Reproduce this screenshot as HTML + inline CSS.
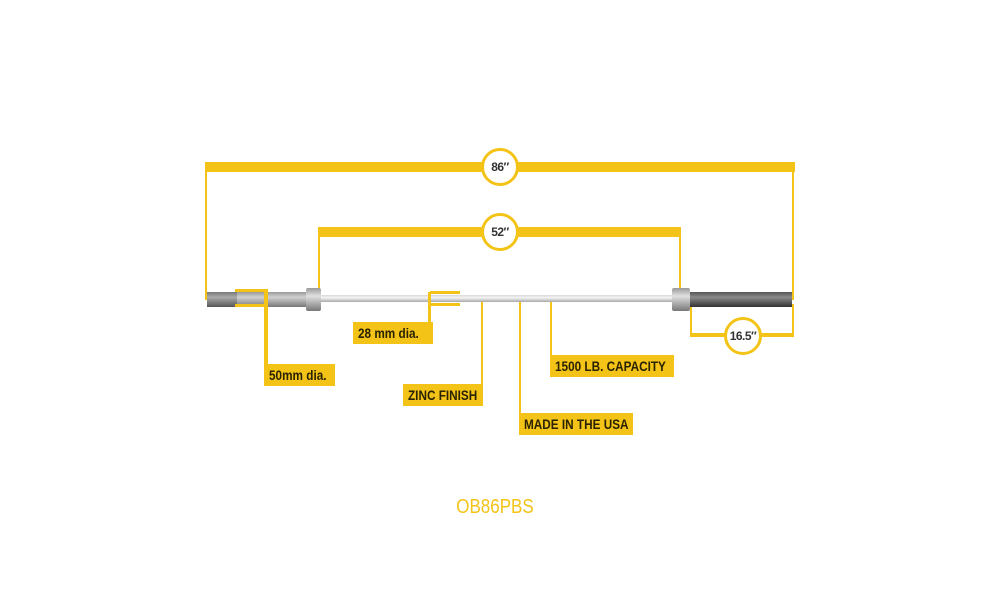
<!DOCTYPE html>
<html><head><meta charset="utf-8"><style>
body{margin:0;width:1000px;height:600px;background:#fff;position:relative;overflow:hidden;font-family:"Liberation Sans",sans-serif}
.y{position:absolute;background:#f3c317}
.c{position:absolute;width:32px;height:32px;border:3px solid #f3c317;border-radius:50%;background:#fff;font:bold 12px "Liberation Sans",sans-serif;color:#333;text-align:center;line-height:32px;letter-spacing:-0.5px}
.l{position:absolute;background:#f3c317;color:#2a2200;font-weight:bold;font-size:14px;line-height:22px;padding-left:5px;box-sizing:border-box;white-space:nowrap;overflow:hidden}
.l span{display:inline-block;transform:scaleX(.84);transform-origin:left center}
</style></head><body>
<div class="y" style="left:205px;top:162px;width:590px;height:10px"></div>
<div class="y" style="left:205px;top:162px;width:2px;height:138px"></div>
<div class="y" style="left:792px;top:162px;width:2px;height:138px"></div>
<div class="c" style="left:481px;top:148px">86″</div>
<div class="y" style="left:318px;top:227px;width:363px;height:10px"></div>
<div class="y" style="left:318px;top:227px;width:2px;height:66px"></div>
<div class="y" style="left:679px;top:227px;width:2px;height:66px"></div>
<div class="c" style="left:481px;top:213px">52″</div>
<div style="position:absolute;left:320px;top:295px;width:352px;height:7px;background:linear-gradient(#d8d8d8,#f4f4f4 40%,#a8a8a8)"></div>
<div style="position:absolute;left:207px;top:292px;width:100px;height:15px;background:linear-gradient(#9a9a9a,#d0d0d0 35%,#777)"></div>
<div style="position:absolute;left:207px;top:292px;width:30px;height:15px;background:linear-gradient(#777,#aaa 35%,#555)"></div>
<div style="position:absolute;left:306px;top:288px;width:15px;height:23px;background:linear-gradient(#999,#e0e0e0 35%,#777);border-radius:2px"></div>
<div style="position:absolute;left:672px;top:288px;width:18px;height:23px;background:linear-gradient(#999,#e0e0e0 35%,#777);border-radius:2px"></div>
<div style="position:absolute;left:690px;top:292px;width:102px;height:15px;background:linear-gradient(#555,#8a8a8a 35%,#333)"></div>
<div class="y" style="left:235px;top:289px;width:30px;height:3px"></div>
<div class="y" style="left:235px;top:304px;width:30px;height:3px"></div>
<div class="y" style="left:430px;top:291px;width:30px;height:3px"></div>
<div class="y" style="left:430px;top:303px;width:30px;height:3px"></div>
<div class="y" style="left:264px;top:289px;width:4px;height:80px"></div>
<div class="l" style="left:264px;top:364px;width:71px"><span>50mm dia.</span></div>
<div class="y" style="left:428px;top:292px;width:3px;height:32px"></div>
<div class="l" style="left:353px;top:322px;width:80px"><span>28 mm dia.</span></div>
<div class="y" style="left:481px;top:302px;width:2px;height:84px"></div>
<div class="l" style="left:403px;top:384px;width:80px"><span>ZINC FINISH</span></div>
<div class="y" style="left:519px;top:302px;width:2px;height:113px"></div>
<div class="l" style="left:519px;top:413px;width:114px"><span>MADE IN THE USA</span></div>
<div class="y" style="left:550px;top:302px;width:2px;height:55px"></div>
<div class="l" style="left:550px;top:355px;width:124px"><span>1500 LB. CAPACITY</span></div>
<div class="y" style="left:690px;top:307px;width:2px;height:30px"></div>
<div class="y" style="left:792px;top:304px;width:2px;height:33px"></div>
<div class="y" style="left:690px;top:333px;width:104px;height:4px"></div>
<div class="c" style="left:724px;top:317px">16.5″</div>
<div style="position:absolute;left:440px;top:496px;width:110px;text-align:center;color:#f3c317;font:20px 'Liberation Sans',sans-serif;transform:scaleX(.85)">OB86PBS</div>
</body></html>
